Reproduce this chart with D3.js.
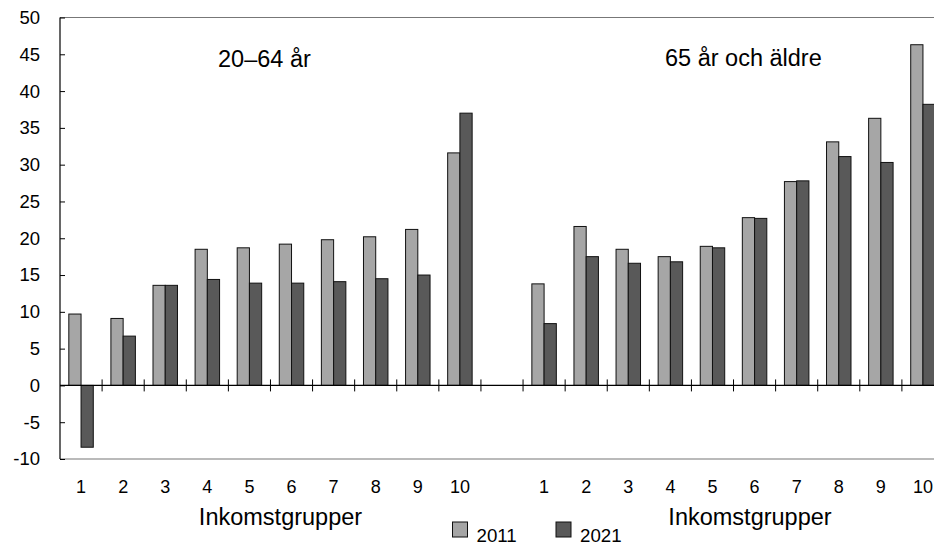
<!DOCTYPE html>
<html>
<head>
<meta charset="utf-8">
<script src="https://cdn.jsdelivr.net/npm/d3@7"></script>
<style>
  html, body { margin: 0; padding: 0; background: #fff; }
  svg { display: block; font-family: "Liberation Sans", Arial, sans-serif; }
</style>
</head>
<body>
<svg id="chart" width="934" height="545"></svg>
<script>
// ---- data ----
const groups = ["20–64 år", "65 år och äldre"];
const categories = ["1", "2", "3", "4", "5", "6", "7", "8", "9", "10"];
const seriesNames = ["2011", "2021"];
const working2011 = [9.7, 9.1, 13.6, 18.5, 18.7, 19.2, 19.8, 20.2, 21.2, 31.6];
const working2021 = [-8.4, 6.7, 13.6, 14.4, 13.9, 13.9, 14.1, 14.5, 15.0, 37.0];
const elderly2011 = [13.8, 21.6, 18.5, 17.5, 18.9, 22.8, 27.7, 33.1, 36.3, 46.3];
const elderly2021 = [8.4, 17.5, 16.6, 16.8, 18.7, 22.7, 27.8, 31.1, 30.3, 38.2];
const yTicks = [-10, -5, 0, 5, 10, 15, 20, 25, 30, 35, 40, 45, 50];
const xTitle = "Inkomstgrupper";
const colors = { "2011": "#a6a6a6", "2021": "#595959" };

(function () {
const svg = d3.select("#chart");
const pLeft = 60, pRight = 944, pTop = 17.5, pBottom = 459;

const slots = [
  ...categories.map(c => "a" + c),
  "gap",
  ...categories.map(c => "b" + c)
];
const x = d3.scaleBand().domain(slots).range([pLeft, pRight]).padding(0);
const inner = d3.scaleBand().domain(seriesNames).range([0, x.bandwidth()])
  .paddingInner(0).paddingOuter(0.72);
const y = d3.scaleLinear().domain([-10, 50]).range([pBottom, pTop]);

const rows = [];
categories.forEach((c, i) => {
  rows.push({ slot: "a" + c, s: "2011", v: working2011[i] });
  rows.push({ slot: "a" + c, s: "2021", v: working2021[i] });
  rows.push({ slot: "b" + c, s: "2011", v: elderly2011[i] });
  rows.push({ slot: "b" + c, s: "2021", v: elderly2021[i] });
});

// frame
svg.append("line").attr("x1", pLeft).attr("x2", 934).attr("y1", pTop).attr("y2", pTop)
  .attr("stroke", "#777").attr("stroke-width", 1.2);
svg.append("line").attr("x1", pLeft).attr("x2", 934).attr("y1", pBottom).attr("y2", pBottom)
  .attr("stroke", "#777").attr("stroke-width", 1.2);

// bars
svg.append("g").selectAll("rect").data(rows).join("rect")
  .attr("x", d => x(d.slot) + inner(d.s))
  .attr("width", inner.bandwidth())
  .attr("y", d => y(Math.max(0, d.v)))
  .attr("height", d => Math.abs(y(d.v) - y(0)))
  .attr("fill", d => colors[d.s])
  .attr("stroke", "#111")
  .attr("stroke-width", 1);

// zero line and category ticks
svg.append("line").attr("x1", pLeft).attr("x2", 934).attr("y1", y(0)).attr("y2", y(0))
  .attr("stroke", "#000").attr("stroke-width", 1.2);
svg.append("g").selectAll("line").data(slots.slice(1)).join("line")
  .attr("x1", d => x(d)).attr("x2", d => x(d))
  .attr("y1", y(0) - 6).attr("y2", y(0) + 6)
  .attr("stroke", "#000").attr("stroke-width", 1);

// y axis
const yAxis = d3.axisLeft(y).tickValues(yTicks).tickSize(-5).tickPadding(20)
  .tickFormat(d => d);
const ya = svg.append("g").attr("transform", `translate(${pLeft},0)`).call(yAxis);
ya.select(".domain").remove();
ya.selectAll(".tick line").attr("stroke", "#000");
ya.selectAll(".tick text").attr("font-size", 18.5).attr("fill", "#000")
  .attr("font-family", "'Liberation Sans', Arial, sans-serif");
svg.append("line").attr("x1", pLeft).attr("x2", pLeft).attr("y1", pTop).attr("y2", pBottom)
  .attr("stroke", "#000").attr("stroke-width", 1.2);

// x labels
const xAxis = d3.axisBottom(x).tickSize(0).tickPadding(0)
  .tickFormat(d => d === "gap" ? "" : d.slice(1));
const xa = svg.append("g").attr("transform", `translate(0,${pBottom})`).call(xAxis);
xa.select(".domain").remove();
xa.selectAll(".tick text").attr("font-size", 18).attr("fill", "#000")
  .attr("dy", 0).attr("y", 33.5)
  .attr("font-family", "'Liberation Sans', Arial, sans-serif");

// x titles
svg.append("text").attr("x", 280.5).attr("y", 524.5).attr("text-anchor", "middle")
  .attr("font-size", 23.5).text(xTitle);
svg.append("text").attr("x", 750).attr("y", 524.5).attr("text-anchor", "middle")
  .attr("font-size", 23.5).text(xTitle);

// panel labels
svg.append("text").attr("x", 218).attr("y", 66.5).attr("font-size", 23.5).text(groups[0]);
svg.append("text").attr("x", 665).attr("y", 65.5).attr("font-size", 23.5).text(groups[1]);

// legend
const legX = [452.5, 556];
seriesNames.forEach((s, i) => {
  svg.append("rect").attr("x", legX[i]).attr("y", 522).attr("width", 15).attr("height", 15)
    .attr("fill", colors[s]).attr("stroke", "#111").attr("stroke-width", 1);
  svg.append("text").attr("x", legX[i] + 24).attr("y", 541.5).attr("font-size", 18.7).text(s);
});
})();
</script>
</body>
</html>
